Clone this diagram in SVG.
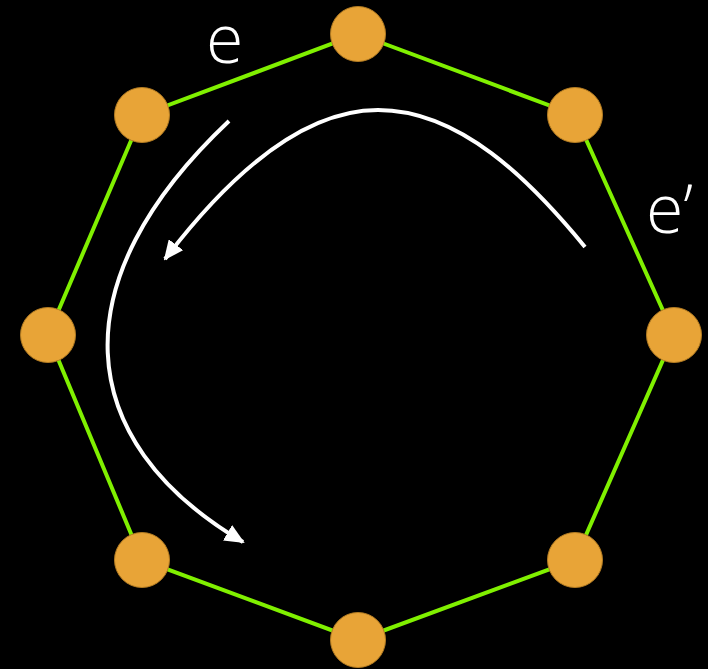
<svg xmlns="http://www.w3.org/2000/svg" width="708" height="669" viewBox="0 0 708 669">
<style>
.edge{stroke:#80F000;stroke-width:4;fill:none}
.node{fill:#E8A437;stroke:#B27B22;stroke-width:1}
.arrow{stroke:#FFFFFF;stroke-width:4;fill:none;marker-end:url(#head)}
.lbl{fill:#FFFFFF;font-family:"Open Sans","Lato","Liberation Sans",sans-serif;font-weight:300;font-size:68px}
</style>
<defs>
<marker id="head" viewBox="0 0 20 18" refX="18" refY="9" markerWidth="20" markerHeight="18" markerUnits="userSpaceOnUse" orient="auto">
<path d="M0,0 L20,9 L0,18 z" fill="#FFFFFF"/>
</marker>
</defs>
<rect width="708" height="669" fill="#000000"/>
<g id="connectors">
<polygon class="edge" points="358,34 575,115 674,335 575,560 358,640 142,560 48,335 142,115"/>
<path class="arrow" d="M229,121 C60,280 70,440 243,542"/>
<path class="arrow" d="M585,247 C530,180 460,110 378,110 C290,110 210,200 165,259"/>
</g>
<g id="n-top"><circle class="node" cx="358" cy="34" r="27.5"/></g>
<g id="n-topright"><circle class="node" cx="575" cy="115" r="27.5"/></g>
<g id="n-right"><circle class="node" cx="674" cy="335" r="27.5"/></g>
<g id="n-bottomright"><circle class="node" cx="575" cy="560" r="27.5"/></g>
<g id="n-bottom"><circle class="node" cx="358" cy="640" r="27.5"/></g>
<g id="n-bottomleft"><circle class="node" cx="142" cy="560" r="27.5"/></g>
<g id="n-left"><circle class="node" cx="48" cy="335" r="27.5"/></g>
<g id="n-topleft"><circle class="node" cx="142" cy="115" r="27.5"/></g>
<g id="labels">
<text class="lbl" x="206" y="63">e</text>
<text class="lbl" x="646" y="233">e’</text>
</g>
</svg>
